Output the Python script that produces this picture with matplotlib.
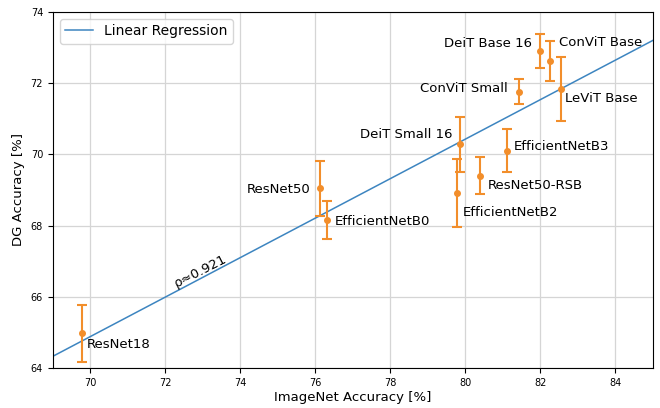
import numpy as np
import matplotlib.pyplot as plt

# ImageNet accuracy vs DG accuracy
models = ['ResNet18', 'ResNet50', 'EfficientNetB0', 'EfficientNetB2',
          'ResNet50-RSB', 'EfficientNetB3', 'DeiT Small 16', 'ConViT Small',
          'LeViT Base', 'DeiT Base 16', 'ConViT Base']
imagenet_acc = [69.77, 76.12, 76.30, 79.79, 80.39, 81.10, 79.85, 81.43,
                82.56, 81.99, 82.27]
dg_acc = [64.97, 69.05, 68.16, 68.92, 69.40, 70.10, 70.28, 71.76,
          71.84, 72.89, 72.63]
dg_err = [0.80, 0.77, 0.53, 0.95, 0.52, 0.60, 0.77, 0.35, 0.90, 0.48, 0.56]

# label offsets in points (dx, dy, ha)
label_pos = {
    'ResNet18': (4, -8, 'left'),
    'ResNet50': (-7, -1, 'right'),
    'EfficientNetB0': (6, -1, 'left'),
    'EfficientNetB2': (4, -14, 'left'),
    'ResNet50-RSB': (6, -7, 'left'),
    'EfficientNetB3': (5, 3, 'left'),
    'DeiT Small 16': (-5, 7, 'right'),
    'ConViT Small': (-8, 2, 'right'),
    'LeViT Base': (3, -7, 'left'),
    'DeiT Base 16': (-6, 6, 'right'),
    'ConViT Base': (6, 13, 'left'),
}

x = np.array(imagenet_acc)
y = np.array(dg_acc)
slope, intercept = np.polyfit(x, y, 1)

fig = plt.figure(figsize=(6.6, 4.08), dpi=100)
ax = fig.add_axes([0.080, 0.098, 0.909, 0.873])

xs = np.array([69, 85])
ax.plot(xs, slope * xs + intercept, color='#3d85c0', lw=1.1,
        label='Linear Regression', zorder=2)
ax.errorbar(x, y, yerr=dg_err, fmt='o', color='#f28e2b', ms=4, capsize=3.5,
            elinewidth=1.5, capthick=1.5, zorder=3)

for name, xi, yi in zip(models, x, y):
    dx, dy, ha = label_pos[name]
    ax.annotate(name, (xi, yi), xytext=(dx, dy), textcoords='offset points',
                ha=ha, va='center', fontsize=9.5)

ax.text(72.95, 66.72, 'ρ≈0.921', rotation=27, ha='center', va='center', fontsize=9.5)

ax.set_xlim(69, 85)
ax.set_ylim(64, 74)
ax.set_xticks(np.arange(70, 85, 2))
ax.set_yticks(np.arange(64, 75, 2))
ax.tick_params(labelsize=7)
ax.grid(True, color='#d5d5d5', lw=0.9)
ax.set_axisbelow(True)
ax.set_xlabel('ImageNet Accuracy [%]', fontsize=9.5, labelpad=2)
ax.set_ylabel('DG Accuracy [%]', fontsize=9.5, labelpad=4)
ax.legend(loc='upper left', fontsize=10)

fig.savefig('out.png', dpi=100)
